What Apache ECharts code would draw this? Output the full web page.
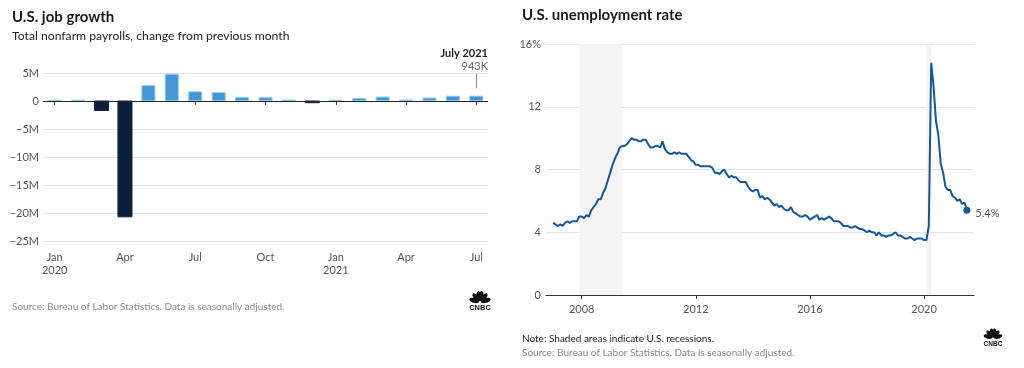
<!DOCTYPE html>
<html>
<head>
<meta charset="utf-8">
<script src="https://cdn.jsdelivr.net/npm/echarts@6/dist/echarts.min.js"></script>
<style>
html,body{margin:0;padding:0;background:#fff;}
#c{width:1024px;height:368px;}
</style>
</head>
<body>
<div id="c"></div>
<script>
// ---- Left chart data: nonfarm payroll change (thousands) ----
const payrollMonths = ['Jan','Feb','Mar','Apr','May','Jun','Jul','Aug','Sep','Oct','Nov','Dec',
                       'Jan','Feb','Mar','Apr','May','Jun','Jul'];
const payrollYears = ['2020','2020','2020','2020','2020','2020','2020','2020','2020','2020','2020','2020',
                      '2021','2021','2021','2021','2021','2021','2021'];
const payrollChange = [214, 251, -1683, -20679, 2833, 4846, 1726, 1583, 716, 680, 264, -306,
                       233, 536, 785, 269, 614, 938, 943];
const payrollTicks = [-25000, -20000, -15000, -10000, -5000, 0, 5000];

// ---- Right chart data: unemployment rate (%), monthly from Jan 2007 ----
const unempStartYear = 2007;
const unempRates = [
  4.6,4.5,4.4,4.5,4.4,4.6,4.7,4.6,4.7,4.7,4.7,5.0,
  5.0,4.9,5.1,5.0,5.4,5.6,5.8,6.1,6.1,6.5,6.8,7.3,
  7.8,8.3,8.7,9.0,9.4,9.5,9.5,9.6,9.8,10.0,9.9,9.9,
  9.8,9.8,9.9,9.9,9.6,9.4,9.4,9.5,9.5,9.4,9.8,9.3,
  9.1,9.0,9.0,9.1,9.0,9.1,9.0,9.0,9.0,8.8,8.6,8.5,
  8.3,8.3,8.2,8.2,8.2,8.2,8.2,8.1,7.8,7.8,7.7,7.9,
  8.0,7.7,7.5,7.6,7.5,7.5,7.3,7.2,7.2,7.2,6.9,6.7,
  6.6,6.7,6.7,6.2,6.3,6.1,6.2,6.1,5.9,5.7,5.8,5.6,
  5.7,5.5,5.4,5.4,5.6,5.3,5.2,5.1,5.0,5.0,5.1,5.0,
  4.8,4.9,5.0,5.1,4.8,4.9,4.8,4.9,5.0,4.9,4.7,4.7,
  4.7,4.6,4.4,4.4,4.4,4.3,4.3,4.4,4.3,4.2,4.2,4.1,
  4.0,4.1,4.0,4.0,3.8,4.0,3.8,3.8,3.7,3.8,3.8,3.9,
  4.0,3.8,3.8,3.7,3.6,3.6,3.7,3.6,3.5,3.6,3.6,3.6,
  3.5,3.5,4.4,14.8,13.3,11.1,10.2,8.4,7.8,6.9,6.7,6.7,
  6.3,6.2,6.0,6.1,5.8,5.9,5.4
];
const unempYearTicks = [2008, 2012, 2016, 2020];
const unempRateTicks = [0, 4, 8, 12, 16];
// recessions as [start, end] in decimal years (Dec 2007–Jun 2009, Feb–Apr 2020)
const recessions = [[2007 + 11/12, 2009 + 5/12], [2020 + 1/12, 2020 + 3/12]];

const FONT = 'Lato, "Open Sans", sans-serif';
const unempPoints = unempRates.map((v, i) => [unempStartYear + i / 12, v]);
const lastPt = unempPoints[unempPoints.length - 1];
const lastIdx = payrollChange.length - 1;

function peacock(x, y, s) {
  // small decorative logo: six feathers fanned out + wordmark
  const children = [];
  const feathers = [-165, -130, -100, -80, -50, -15];
  feathers.forEach(a => {
    const r = a * Math.PI / 180;
    children.push({
      type: 'ellipse',
      x: x + Math.cos(r) * 5.2 * s, y: y + Math.sin(r) * 5.2 * s,
      rotation: -(a + 90) * Math.PI / 180,
      shape: { cx: 0, cy: 0, rx: 2.1 * s, ry: 4.4 * s },
      style: { fill: '#111' }
    });
  });
  children.push({ type: 'text', style: { text: 'CNBC', x: x, y: y + 2.5 * s, align: 'center', verticalAlign: 'top',
    font: 'bold ' + (6.5 * s) + 'px Arial, sans-serif', fill: '#111' } });
  return { type: 'group', children: children };
}

const chart = echarts.init(document.getElementById('c'), null, { renderer: 'canvas' });
chart.setOption({
  animation: false,
  backgroundColor: '#fff',
  textStyle: { fontFamily: FONT },
  grid: [
    { left: 43, width: 445, top: 73, bottom: 127 },
    { left: 546, right: 50, top: 44, bottom: 73 }
  ],
  xAxis: [
    {
      gridIndex: 0, type: 'category', data: payrollMonths,
      axisLine: { show: false },
      axisTick: { show: true, alignWithLabel: true, length: 4, interval: (i) => i % 3 === 0,
                  lineStyle: { color: '#444' } },
      axisLabel: {
        interval: (i) => i % 3 === 0, margin: 10, color: '#555', fontSize: 11, fontFamily: FONT, lineHeight: 13,
        formatter: (v, i) => (payrollMonths[i] === 'Jan' ? v + '\n' + payrollYears[i] : v)
      },
      splitLine: { show: false }
    },
    {
      gridIndex: 1, type: 'value', min: 2006.75, max: 2021.75,
      axisLine: { show: true, lineStyle: { color: '#333', width: 1 } },
      axisTick: { show: true, customValues: unempYearTicks, length: 4, lineStyle: { color: '#333' } },
      axisLabel: { customValues: unempYearTicks, color: '#555', fontSize: 11, fontFamily: FONT, margin: 9,
                   formatter: (v) => String(Math.round(v)) },
      splitLine: { show: false }
    }
  ],
  yAxis: [
    {
      gridIndex: 0, type: 'value', min: -25000, max: 5000, interval: 5000,
      axisLine: { show: false }, axisTick: { show: false },
      axisLabel: { color: '#555', fontSize: 11, fontFamily: FONT, margin: 4,
        formatter: (v) => v === 0 ? '0' : (v < 0 ? '\u2212' : '') + Math.abs(v / 1000) + 'M' },
      splitLine: { lineStyle: { color: '#e3e3e3', width: 1 } }
    },
    {
      gridIndex: 1, type: 'value', min: 0, max: 16, interval: 4,
      axisLine: { show: false }, axisTick: { show: false },
      axisLabel: { color: '#555', fontSize: 11, fontFamily: FONT, margin: 5,
        formatter: (v) => v === 16 ? '16%' : String(v) },
      splitLine: { lineStyle: { color: '#e3e3e3', width: 1 } }
    }
  ],
  series: [
    {
      type: 'bar', xAxisIndex: 0, yAxisIndex: 0, barWidth: 14,
      data: payrollChange.map(v => ({
        value: v,
        itemStyle: v < 0 ? { color: '#0b1f3d', borderColor: '#0b1f3d' } : { color: '#4196d6', borderColor: '#8ec8ef', borderWidth: 1 }
      })),
      markLine: {
        silent: true, symbol: 'none', label: { show: false },
        lineStyle: { color: '#222', width: 1, type: 'solid' },
        data: [{ yAxis: 0 }]
      }
    },
    {
      type: 'line', xAxisIndex: 0, yAxisIndex: 0, data: payrollChange.map((v, i) => i === lastIdx ? v : null),
      symbol: 'none', lineStyle: { opacity: 0 }, silent: true,
      markLine: {
        silent: true, symbol: 'none',
        lineStyle: { color: '#999', width: 1.2, type: 'solid' },
        label: { show: false },
        data: [[
          { coord: [lastIdx, payrollChange[lastIdx] + 1300] },
          { coord: [lastIdx, payrollChange[lastIdx] + 3900] }
        ]]
      }
    },
    {
      type: 'line', xAxisIndex: 1, yAxisIndex: 1, data: unempPoints,
      showSymbol: false, symbol: 'none',
      lineStyle: { color: '#11589a', width: 2 },
      markArea: {
        silent: true,
        itemStyle: { color: '#f4f4f4' },
        data: recessions.map(r => [{ xAxis: r[0] }, { xAxis: r[1] }])
      },
      z: 3
    },
    {
      type: 'scatter', xAxisIndex: 1, yAxisIndex: 1, data: [lastPt],
      symbolSize: 7, itemStyle: { color: '#11589a', opacity: 1 },
      label: { show: true, position: 'right', distance: 5, offset: [0, 3], color: '#555', fontSize: 11, fontFamily: FONT,
               formatter: (p) => p.value[1] + '%' },
      z: 4
    }
  ],
  graphic: [
    { type: 'text', left: 12, top: 10, style: { text: 'U.S. job growth', font: 'bold 15px ' + FONT, fill: '#1a1a1a' } },
    { type: 'text', left: 12, top: 30, style: { text: 'Total nonfarm payrolls, change from previous month', font: '12.2px ' + FONT, fill: '#222' } },
    { type: 'text', right: 1024 - 488, top: 48, style: { text: 'July 2021', font: 'bold 11px ' + FONT, fill: '#222' } },
    { type: 'text', right: 1024 - 488, top: 61, style: { text: '943K', font: '11px ' + FONT, fill: '#666' } },
    { type: 'text', left: 12, top: 302, style: { text: 'Source: Bureau of Labor Statistics. Data is seasonally adjusted.', font: '10px ' + FONT, fill: '#888' } },
    { type: 'text', left: 522, top: 8, style: { text: 'U.S. unemployment rate', font: 'bold 15px ' + FONT, fill: '#1a1a1a' } },
    { type: 'text', left: 522, top: 334, style: { text: 'Note: Shaded areas indicate U.S. recessions.', font: '10px ' + FONT, fill: '#222' } },
    { type: 'text', left: 522, top: 348, style: { text: 'Source: Bureau of Labor Statistics. Data is seasonally adjusted.', font: '10px ' + FONT, fill: '#888' } },
    peacock(480, 302, 1.15),
    peacock(993, 338, 1.0)
  ]
});
</script>
</body>
</html>
